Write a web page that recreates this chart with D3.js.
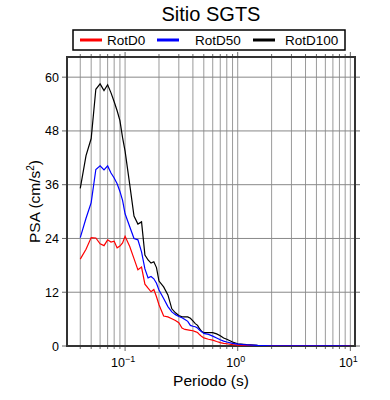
<!DOCTYPE html>
<html>
<head>
<meta charset="utf-8">
<script src="https://cdn.jsdelivr.net/npm/d3@7"></script>
<style>
body { margin: 0; background: #fff; }
text { font-family: "Liberation Sans", Arial, sans-serif; }
</style>
</head>
<body>
<svg id="chart" width="390" height="400"></svg>
<script>
var periods = [0.04, 0.045, 0.05, 0.055, 0.06, 0.065, 0.07, 0.075, 0.08, 0.085, 0.09, 0.095,
  0.1, 0.11, 0.12, 0.13, 0.14, 0.15, 0.16, 0.17, 0.18, 0.19, 0.2, 0.22, 0.24, 0.26, 0.28,
  0.3, 0.32, 0.34, 0.36, 0.38, 0.4, 0.42, 0.44, 0.46, 0.48, 0.5, 0.55, 0.6, 0.65, 0.7,
  0.75, 0.8, 0.9, 1.0, 1.2, 1.5, 2, 2.5, 3, 4, 5, 6, 7, 8, 10];
var rotD0 = [19.4, 21.6, 24.2, 24.1, 22.8, 22.4, 23.7, 23.2, 23.4, 21.9, 22.3, 23.0,
  24.5, 22.2, 19.5, 17.0, 17.6, 13.8, 12.9, 12.1, 12.6, 11.0, 9.2, 6.7, 6.5, 6.1, 5.7,
  5.2, 4.0, 3.7, 3.6, 3.5, 3.4, 3.2, 3.0, 2.5, 2.1, 1.8, 1.5, 1.3, 1.0, 0.75,
  0.6, 0.5, 0.3, 0.2, 0.12, 0.07, 0.03, 0.02, 0.015, 0.01, 0.01, 0.005, 0.005, 0.005, 0.003];
var rotD50 = [24.2, 28.5, 32.0, 39.4, 40.2, 39.3, 40.2, 38.6, 37.5, 36.2, 34.5, 32.5,
  29.5, 26.6, 24.0, 23.7, 21.0, 17.2, 15.2, 15.5, 15.0, 14.0, 12.5, 10.6, 8.8, 7.6, 7.0,
  6.6, 6.3, 5.9, 5.5, 4.6, 4.4, 4.3, 4.0, 3.5, 3.2, 2.8, 2.6, 2.2, 1.8, 1.4,
  1.1, 0.9, 0.6, 0.4, 0.25, 0.12, 0.06, 0.04, 0.03, 0.02, 0.015, 0.01, 0.008, 0.006, 0.005];
var rotD100 = [35.2, 42.5, 46.3, 57.3, 58.5, 57.0, 58.3, 56.5, 54.5, 52.5, 50.3, 46.5,
  43.5, 36.0, 29.0, 27.2, 27.7, 20.3, 19.2, 18.5, 18.8, 17.5, 14.5, 13.2, 11.4, 8.3, 7.4,
  6.8, 6.5, 6.5, 6.5, 6.2, 5.6, 5.0, 4.6, 3.8, 3.2, 3.0, 3.0, 3.0, 2.7, 2.3,
  1.8, 1.5, 0.9, 0.5, 0.3, 0.15, 0.08, 0.05, 0.04, 0.03, 0.02, 0.015, 0.01, 0.01, 0.008];
var yTicks = [0, 12, 24, 36, 48, 60];
var xLabelTicks = [0.1, 1, 10];
var xLabelExp = ["\u22121", "0", "1"];
var seriesNames = ["RotD0", "RotD50", "RotD100"];
var seriesColors = ["#ff0000", "#0000ff", "#000000"];

var svg = d3.select("#chart");
var pLeft = 67, pRight = 355, pTop = 57, pBottom = 346;

var x = d3.scaleLog().domain([0.0305, 11]).range([pLeft, pRight]);
var y = d3.scaleLinear().domain([0, 64.5]).range([pBottom, pTop]);

// grid lines
var gridTicks = x.ticks();
svg.append("g").selectAll("line").data(gridTicks).join("line")
  .attr("x1", function(d){ return x(d); }).attr("x2", function(d){ return x(d); })
  .attr("y1", pTop).attr("y2", pBottom)
  .attr("stroke", "#9a9a9a").attr("stroke-width", 1);
svg.append("g").selectAll("line").data(yTicks.slice(1)).join("line")
  .attr("x1", pLeft).attr("x2", pRight)
  .attr("y1", function(d){ return y(d); }).attr("y2", function(d){ return y(d); })
  .attr("stroke", "#888").attr("stroke-width", 1);

// outside ticks
var tickG = svg.append("g").attr("stroke", "#666").attr("stroke-width", 1);
gridTicks.forEach(function(t) {
  var major = xLabelTicks.indexOf(t) >= 0;
  var len = major ? 5 : 3;
  tickG.append("line").attr("x1", x(t)).attr("x2", x(t)).attr("y1", pTop - len).attr("y2", pTop);
  tickG.append("line").attr("x1", x(t)).attr("x2", x(t)).attr("y1", pBottom).attr("y2", pBottom + len);
});
yTicks.forEach(function(t) {
  tickG.append("line").attr("x1", pLeft - 5).attr("x2", pLeft).attr("y1", y(t)).attr("y2", y(t));
  tickG.append("line").attr("x1", pRight).attr("x2", pRight + 5).attr("y1", y(t)).attr("y2", y(t));
});

// frame
svg.append("rect").attr("x", pLeft).attr("y", pTop)
  .attr("width", pRight - pLeft).attr("height", pBottom - pTop)
  .attr("fill", "none").attr("stroke", "#333").attr("stroke-width", 2);

// curves
svg.append("clipPath").attr("id", "clip").append("rect")
  .attr("x", pLeft).attr("y", pTop - 2).attr("width", pRight - pLeft).attr("height", pBottom - pTop + 2);
var line = d3.line().x(function(d){ return x(d[0]); }).y(function(d){ return y(d[1]); });
var allSeries = [rotD0, rotD50, rotD100];
[2, 0, 1].forEach(function(i) {
  svg.append("path")
    .datum(periods.map(function(p, k){ return [p, allSeries[i][k]]; }))
    .attr("d", line).attr("fill", "none")
    .attr("stroke", seriesColors[i]).attr("stroke-width", 1.2)
    .attr("clip-path", "url(#clip)");
});

// y tick labels
svg.append("g").selectAll("text").data(yTicks).join("text")
  .attr("x", pLeft - 8).attr("y", function(d){ return y(d) + 4.5; })
  .attr("text-anchor", "end").attr("font-size", 12.5).text(function(d){ return d; });

// x tick labels
xLabelTicks.forEach(function(t, i) {
  var txt = svg.append("text").attr("x", x(t) - 2).attr("y", 367)
    .attr("text-anchor", "middle").attr("font-size", 12.5);
  txt.append("tspan").text("10");
  txt.append("tspan").attr("dy", -5).attr("font-size", 9).text(xLabelExp[i]);
});

// axis titles
svg.append("text").attr("x", (pLeft + pRight) / 2).attr("y", 386)
  .attr("text-anchor", "middle").attr("font-size", 15.5).text("Periodo (s)");
var yl = svg.append("text")
  .attr("transform", "translate(40," + ((pTop + pBottom) / 2) + ") rotate(-90)")
  .attr("text-anchor", "middle").attr("font-size", 15.5);
yl.append("tspan").text("PSA (cm/s");
yl.append("tspan").attr("dy", -6).attr("font-size", 10).text("2");
yl.append("tspan").attr("dy", 6).text(")");

// title
svg.append("text").attr("x", 211).attr("y", 21)
  .attr("text-anchor", "middle").attr("font-size", 20).text("Sitio SGTS");

// legend
svg.append("rect").attr("x", 73).attr("y", 30).attr("width", 272).attr("height", 20)
  .attr("fill", "#fff").attr("stroke", "#000").attr("stroke-width", 1.5);
var legX = [80, 157, 253];
var legTextX = [107, 195, 285];
seriesNames.forEach(function(n, i) {
  svg.append("line").attr("x1", legX[i]).attr("x2", legX[i] + 22)
    .attr("y1", 40).attr("y2", 40)
    .attr("stroke", seriesColors[i]).attr("stroke-width", 3);
  svg.append("text").attr("x", legTextX[i]).attr("y", 45)
    .attr("font-size", 13.5).text(n);
});
</script>
</body>
</html>
